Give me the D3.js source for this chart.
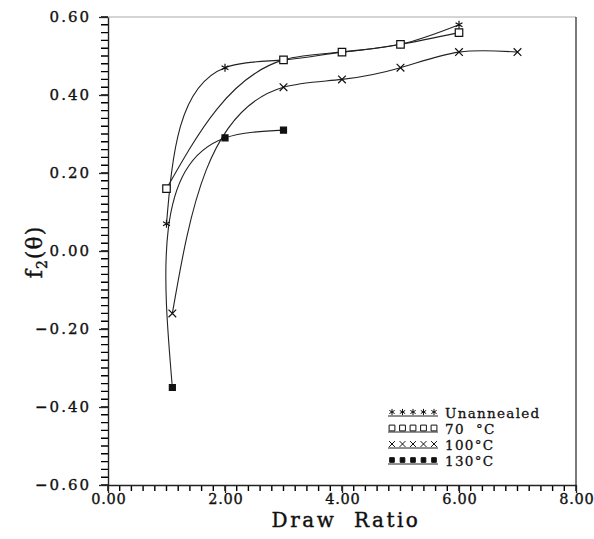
<!DOCTYPE html>
<html>
<head>
<meta charset="utf-8">
<script src="https://cdn.jsdelivr.net/npm/d3@7"></script>
<style>
  body { margin: 0; background: #fff; }
  text { font-family: "DejaVu Serif", serif; fill: #111; }
</style>
</head>
<body>
<div id="chart"></div>
<script>
// data
var seriesNames = ["Unannealed", "70  °C", "100°C", "130°C"]
var unannealedX = [1.0, 2.0, 3.0, 4.0, 5.0, 6.0]
var unannealedY = [0.07, 0.47, 0.49, 0.51, 0.53, 0.58]
var c70X = [1.0, 3.0, 4.0, 5.0, 6.0]
var c70Y = [0.16, 0.49, 0.51, 0.53, 0.56]
var c100X = [1.1, 3.0, 4.0, 5.0, 6.0, 7.0]
var c100Y = [-0.16, 0.42, 0.44, 0.47, 0.51, 0.51]
var c130X = [1.1, 2.0, 3.0]
var c130Y = [-0.35, 0.29, 0.31]
var xTicks = [0, 2, 4, 6, 8]
var yTicks = [-0.6, -0.4, -0.2, 0, 0.2, 0.4, 0.6]
var xMinor = d3.range(0, 41).map(i => i * 0.2)
var yMinor = d3.range(0, 61).map(i => -0.6 + i * 0.02)

var W = 594, H = 539
var svg = d3.select("#chart").append("svg")
  .attr("width", W).attr("height", H)

var x = d3.scaleLinear().domain([0, 8]).range([108, 576])
var y = d3.scaleLinear().domain([-0.6, 0.6]).range([485, 17])

// frame
svg.append("line").attr("x1", 108).attr("x2", 576).attr("y1", 17).attr("y2", 17)
  .attr("stroke", "#aaa").attr("stroke-width", 1)
svg.append("line").attr("x1", 576).attr("x2", 576).attr("y1", 17).attr("y2", 485)
  .attr("stroke", "#222").attr("stroke-width", 1.2)

// minor ticks as one path each
var mx = d3.path()
xMinor.forEach(function(d) { mx.moveTo(x(d), 485); mx.lineTo(x(d), 491) })
svg.append("path").attr("d", mx.toString()).attr("fill", "none")
  .attr("stroke", "#000").attr("stroke-width", 1.4)
var my = d3.path()
yMinor.forEach(function(d) { my.moveTo(101, y(d)); my.lineTo(108, y(d)) })
svg.append("path").attr("d", my.toString()).attr("fill", "none")
  .attr("stroke", "#000").attr("stroke-width", 1.4)

// major axes
var xAxis = svg.append("g").attr("transform", "translate(0,485)")
  .call(d3.axisBottom(x).tickValues(xTicks).tickSize(8).tickSizeOuter(0).tickPadding(1).tickFormat(d3.format(".2f")))
var yAxis = svg.append("g").attr("transform", "translate(108,0)")
  .call(d3.axisLeft(y).tickValues(yTicks).tickSize(9).tickSizeOuter(0).tickPadding(10).tickFormat(d3.format(".2f")))
svg.selectAll(".tick line").attr("stroke", "#222").attr("stroke-width", 1.3)
svg.selectAll(".domain").attr("stroke", "#222").attr("stroke-width", 1.4)
svg.selectAll(".tick text").attr("font-family", "DejaVu Serif").attr("font-size", 15)
  .attr("letter-spacing", 2).attr("fill", "#111").attr("stroke", "#111").attr("stroke-width", 0.35)
xAxis.selectAll(".tick text").attr("font-size", 14.5).attr("letter-spacing", 0.8).attr("dx", 0.4)
yAxis.selectAll(".tick text").attr("dx", 2)

// axis titles
svg.append("text").attr("x", 346).attr("y", 527).attr("text-anchor", "middle")
  .attr("font-size", 20).attr("letter-spacing", 2.5).style("white-space", "pre")
  .attr("stroke", "#111").attr("stroke-width", 0.4)
  .text("Draw  Ratio")

var yl = svg.append("text").attr("transform", "translate(42,252) rotate(-90)")
  .attr("text-anchor", "middle").attr("font-size", 22).attr("letter-spacing", 1)
  .attr("stroke", "#111").attr("stroke-width", 0.4)
yl.append("tspan").text("f")
yl.append("tspan").attr("dy", 5).attr("font-size", 14).text("2")
yl.append("tspan").attr("dy", -5).text("(θ)")

// parametric natural cubic spline, chord-length parameter
function secondDerivs(v, h) {
  var n = v.length, M = new Array(n).fill(0)
  if (n < 3) return M
  var a = [], b = [], c = [], d = []
  for (var i = 1; i < n - 1; i++) {
    a.push(h[i - 1]); b.push(2 * (h[i - 1] + h[i])); c.push(h[i])
    d.push(6 * ((v[i + 1] - v[i]) / h[i] - (v[i] - v[i - 1]) / h[i - 1]))
  }
  var m = b.length
  for (var i = 1; i < m; i++) {
    var w = a[i] / b[i - 1]
    b[i] -= w * c[i - 1]; d[i] -= w * d[i - 1]
  }
  var s = new Array(m)
  s[m - 1] = d[m - 1] / b[m - 1]
  for (var i = m - 2; i >= 0; i--) s[i] = (d[i] - c[i] * s[i + 1]) / b[i]
  for (var i = 0; i < m; i++) M[i + 1] = s[i]
  return M
}
function curveChordNatural(context) {
  var xs, ys
  return {
    areaStart: function() {}, areaEnd: function() {},
    lineStart: function() { xs = []; ys = [] },
    point: function(px, py) { xs.push(+px); ys.push(+py) },
    lineEnd: function() {
      var n = xs.length
      if (!n) return
      context.moveTo(xs[0], ys[0])
      if (n === 1) return
      var h = []
      for (var i = 0; i < n - 1; i++) h.push(Math.hypot(xs[i + 1] - xs[i], ys[i + 1] - ys[i]) || 1e-6)
      var Mx = secondDerivs(xs, h), My = secondDerivs(ys, h)
      for (var i = 0; i < n - 1; i++) {
        var hi = h[i]
        var dx0 = (xs[i + 1] - xs[i]) / hi - hi * (2 * Mx[i] + Mx[i + 1]) / 6
        var dx1 = (xs[i + 1] - xs[i]) / hi + hi * (Mx[i] + 2 * Mx[i + 1]) / 6
        var dy0 = (ys[i + 1] - ys[i]) / hi - hi * (2 * My[i] + My[i + 1]) / 6
        var dy1 = (ys[i + 1] - ys[i]) / hi + hi * (My[i] + 2 * My[i + 1]) / 6
        context.bezierCurveTo(xs[i] + dx0 * hi / 3, ys[i] + dy0 * hi / 3,
          xs[i + 1] - dx1 * hi / 3, ys[i + 1] - dy1 * hi / 3, xs[i + 1], ys[i + 1])
      }
    }
  }
}

var series = [
  {name: seriesNames[0], xs: unannealedX, ys: unannealedY, sym: d3.symbolAsterisk, size: 44, fill: "none"},
  {name: seriesNames[1], xs: c70X, ys: c70Y, sym: d3.symbolSquare, size: 56, fill: "#fff"},
  {name: seriesNames[2], xs: c100X, ys: c100Y, sym: d3.symbolTimes, size: 40, fill: "none"},
  {name: seriesNames[3], xs: c130X, ys: c130Y, sym: d3.symbolSquare, size: 36, fill: "#111"}
]

var line = d3.line().x(d => x(d[0])).y(d => y(d[1])).curve(curveChordNatural)

series.forEach(function(s) {
  var pts = d3.zip(s.xs, s.ys)
  svg.append("path").datum(pts)
    .attr("fill", "none").attr("stroke", "#222").attr("stroke-width", 1.1)
    .attr("d", line)
})
series.forEach(function(s) {
  var pts = d3.zip(s.xs, s.ys)
  svg.append("g").selectAll("path").data(pts).enter().append("path")
    .attr("transform", d => "translate(" + x(d[0]) + "," + y(d[1]) + ")")
    .attr("d", d3.symbol().type(s.sym).size(s.size))
    .attr("fill", s.fill).attr("stroke", "#111").attr("stroke-width", 1.2)
})

// legend
var legend = svg.append("g").attr("transform", "translate(388,412)")
series.forEach(function(s, i) {
  var row = legend.append("g").attr("transform", "translate(0," + (i * 16) + ")")
  row.append("line").attr("x1", 0).attr("x2", 50).attr("y1", 4).attr("y2", 4)
    .attr("stroke", "#222").attr("stroke-width", 1)
  row.selectAll("path").data(d3.range(5)).enter().append("path")
    .attr("transform", k => "translate(" + (4 + k * 10.5) + ",0)")
    .attr("d", d3.symbol().type(s.sym).size(s.size * 0.6))
    .attr("fill", s.fill).attr("stroke", "#111").attr("stroke-width", 1)
  row.append("text").attr("x", 57).attr("y", 5.5).attr("font-size", 13.5)
    .attr("letter-spacing", 1.3).style("white-space", "pre")
    .attr("stroke", "#111").attr("stroke-width", 0.3)
    .text(s.name)
})
</script>
</body>
</html>
